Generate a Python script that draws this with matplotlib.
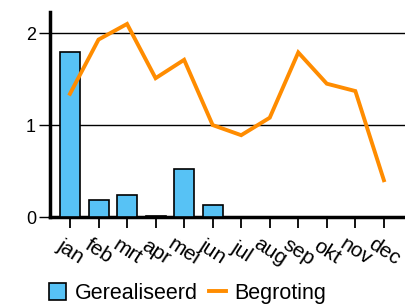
import numpy as np
import matplotlib
matplotlib.use('Agg')
import matplotlib.pyplot as plt

plt.rcParams['font.family'] = ['Liberation Sans', 'DejaVu Sans']

# values
months = ['jan', 'feb', 'mrt', 'apr', 'mei', 'jun',
          'jul', 'aug', 'sep', 'okt', 'nov', 'dec']
gerealiseerd = [1.80, 0.18, 0.24, 0.01, 0.52, 0.13, 0, 0, 0, 0, 0, 0]
begroting = [1.34, 1.93, 2.10, 1.51, 1.71, 1.00,
             0.89, 1.08, 1.79, 1.45, 1.37, 0.40]
yticks = [0, 1, 2]
title = 'Begroting 2013 (x1000)'

fig = plt.figure(figsize=(4.05, 3.06), dpi=100)
ax = fig.add_axes([50 / 405, 89 / 306, 1 - 50 / 405, 205 / 306])

x = np.arange(len(months))
bars = ax.bar(x, gerealiseerd, width=0.7, color='#57c2f5', edgecolor='black',
              linewidth=1.2, label='Gerealiseerd', zorder=3)
line, = ax.plot(x, begroting, color='#ff8c00', linewidth=2.8,
                label='Begroting', zorder=4, solid_joinstyle='miter')

ax.set_xlim(-0.7, 11.74)
ax.set_ylim(0, 2.23)
ax.set_yticks(yticks)
ax.set_yticklabels([str(v) for v in yticks], fontsize=13)
ax.set_xticks(x)
ax.set_xticklabels(months, fontsize=15, rotation=-33, ha='center',
                   va='center', rotation_mode='anchor')

ax.grid(axis='y', color='black', linewidth=1.0, zorder=1)
ax.spines['top'].set_visible(False)
ax.spines['right'].set_visible(False)
ax.spines['left'].set_linewidth(2.5)
ax.spines['bottom'].set_linewidth(2.5)
ax.tick_params(axis='y', length=8, width=1.0, pad=2)
ax.tick_params(axis='x', length=8, width=1.3, pad=17)

# title sits mostly above the visible area, only descenders show
fig.text(1.005, 1.014, title, fontsize=13, ha='right', va='baseline')

fig.legend([bars, line], ['Gerealiseerd', 'Begroting'],
           loc='lower left', bbox_to_anchor=(0.1, -0.022), ncol=2,
           frameon=False, fontsize=15.5, handlelength=0.8, handleheight=0.8,
           handletextpad=0.4, columnspacing=0.5, borderaxespad=0)

fig.savefig('out.png', dpi=100)
